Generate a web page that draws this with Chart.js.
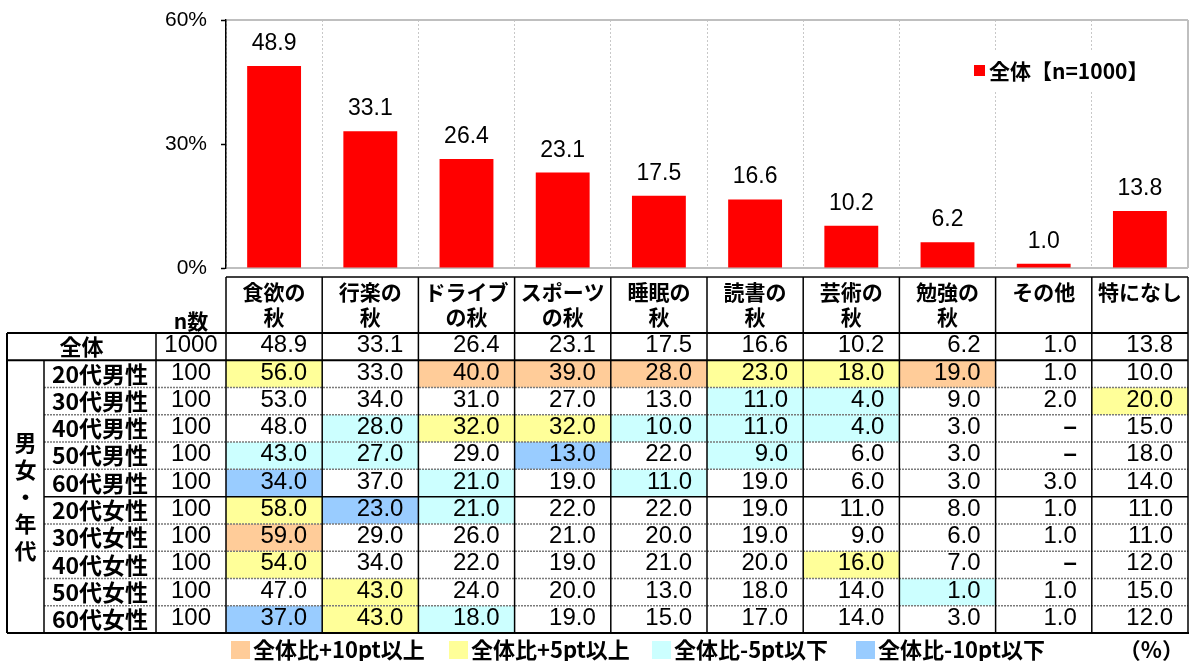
<!DOCTYPE html>
<html lang="ja">
<head>
<meta charset="utf-8">
<script src="https://cdn.jsdelivr.net/npm/chart.js@4.4.1/dist/chart.umd.min.js"></script>
<style>
  html, body { margin: 0; padding: 0; background: #fff; }
  #wrap { width: 1190px; height: 661px; }
</style>
</head>
<body>
<div id="wrap"><canvas id="graf"></canvas></div>
<script>
// ===== datos =====
const categorias = ['食欲の秋', '行楽の秋', 'ドライブの秋', 'スポーツの秋', '睡眠の秋', '読書の秋', '芸術の秋', '勉強の秋', 'その他', '特になし'];
const cabeceras = [['食欲の', '秋'], ['行楽の', '秋'], ['ドライブ', 'の秋'], ['スポーツ', 'の秋'], ['睡眠の', '秋'], ['読書の', '秋'], ['芸術の', '秋'], ['勉強の', '秋'], ['その他'], ['特になし']];
const total = [48.9, 33.1, 26.4, 23.1, 17.5, 16.6, 10.2, 6.2, 1.0, 13.8];
const nTotal = 1000;
const yTicks = [0, 30, 60];

const grupos = ['20代男性', '30代男性', '40代男性', '50代男性', '60代男性', '20代女性', '30代女性', '40代女性', '50代女性', '60代女性'];
const nGrupos = [100, 100, 100, 100, 100, 100, 100, 100, 100, 100];
const m20 = [56.0, 33.0, 40.0, 39.0, 28.0, 23.0, 18.0, 19.0, 1.0, 10.0];
const m30 = [53.0, 34.0, 31.0, 27.0, 13.0, 11.0, 4.0, 9.0, 2.0, 20.0];
const m40 = [48.0, 28.0, 32.0, 32.0, 10.0, 11.0, 4.0, 3.0, null, 15.0];
const m50 = [43.0, 27.0, 29.0, 13.0, 22.0, 9.0, 6.0, 3.0, null, 18.0];
const m60 = [34.0, 37.0, 21.0, 19.0, 11.0, 19.0, 6.0, 3.0, 3.0, 14.0];
const f20 = [58.0, 23.0, 21.0, 22.0, 22.0, 19.0, 11.0, 8.0, 1.0, 11.0];
const f30 = [59.0, 29.0, 26.0, 21.0, 20.0, 19.0, 9.0, 6.0, 1.0, 11.0];
const f40 = [54.0, 34.0, 22.0, 19.0, 21.0, 20.0, 16.0, 7.0, null, 12.0];
const f50 = [47.0, 43.0, 24.0, 20.0, 13.0, 18.0, 14.0, 1.0, 1.0, 15.0];
const f60 = [37.0, 43.0, 18.0, 19.0, 15.0, 17.0, 14.0, 3.0, 1.0, 12.0];
const filas = [m20, m30, m40, m50, m60, f20, f30, f40, f50, f60];

const leyendas = ['全体比+10pt以上', '全体比+5pt以上', '全体比-5pt以下', '全体比-10pt以下'];

// ===== estilos =====
const ROJO = '#ff0000';
const NARANJA = '#ffcc99', AMARILLO = '#ffff99', CIAN = '#ccffff', AZUL = '#99ccff';
const JP = "'Noto Sans CJK JP', sans-serif";
const NUM = "'Liberation Sans', Arial, sans-serif";

function colorCelda(v, base) {
    if (v == null) return null;
    const d = Math.round((v - base) * 10) / 10;
    if (d >= 10) return NARANJA;
    if (d >= 5) return AMARILLO;
    if (d <= -10) return AZUL;
    if (d <= -5) return CIAN;
    return null;
}

function linea(ctx, x1, y1, x2, y2) {
    ctx.beginPath();
    ctx.moveTo(x1, y1);
    ctx.lineTo(x2, y2);
    ctx.stroke();
}

// caja gris del area
const cajaPlugin = {
    id: 'caja',
    beforeDatasetsDraw(chart) {
        const { ctx, chartArea: a } = chart;
        ctx.save();
        ctx.strokeStyle = '#bfbfbf';
        ctx.lineWidth = 2;
        linea(ctx, a.left + 1, a.top, a.right, a.top);
        linea(ctx, a.right, a.top, a.right, a.bottom);
        linea(ctx, a.left + 1, a.bottom, a.right, a.bottom);
        ctx.restore();
    }
};

// etiquetas encima de las barras
const etiquetasPlugin = {
    id: 'etiquetas',
    afterDatasetsDraw(chart) {
        const ctx = chart.ctx;
        const meta = chart.getDatasetMeta(0);
        ctx.save();
        ctx.fillStyle = '#000';
        ctx.font = '23px ' + NUM;
        ctx.textAlign = 'center';
        ctx.textBaseline = 'alphabetic';
        meta.data.forEach((bar, i) => {
            ctx.fillText(total[i].toFixed(1), bar.x, bar.y - 16);
        });
        ctx.restore();
    }
};

// leyenda del grafico
const leyendaPlugin = {
    id: 'leyendaSerie',
    afterDatasetsDraw(chart) {
        const ctx = chart.ctx;
        ctx.save();
        ctx.fillStyle = '#fff';
        ctx.fillRect(962, 50, 186, 40);
        ctx.fillStyle = ROJO;
        ctx.fillRect(974, 65, 11, 11);
        ctx.fillStyle = '#000';
        ctx.font = 'bold 21px ' + JP;
        ctx.textBaseline = 'middle';
        ctx.textAlign = 'left';
        ctx.fillText(chart.data.datasets[0].label, 989, 71);
        ctx.restore();
    }
};

// tabla debajo
const tablaPlugin = {
    id: 'tabla',
    afterDraw(chart) {
        const ctx = chart.ctx;
        const xs = chart.scales.x;
        const nCol = categorias.length;
        const colW = (xs.right - xs.left) / nCol;
        const borde = i => (i < nCol ? xs.getPixelForValue(i) - colW / 2 : xs.right);

        const cabTop = 277, cuerpoTop = 333, filaH = 300 / 11;
        const xIzq = 7, xGrp = 44, xLbl = 156, xN = xs.left;
        const yFila = r => cuerpoTop + r * filaH;
        const yFin = yFila(11);

        ctx.save();

        // fondos
        filas.forEach((fila, r) => {
            fila.forEach((v, i) => {
                const c = colorCelda(v, total[i]);
                if (c) {
                    ctx.fillStyle = c;
                    ctx.fillRect(borde(i), yFila(r + 1), colW, filaH);
                }
            });
        });

        // lineas punteadas entre filas
        ctx.strokeStyle = '#7a7a7a';
        ctx.lineWidth = 1.5;
        ctx.setLineDash([2, 1]);
        for (let r = 2; r <= 10; r++) {
            if (r === 6) continue;
            linea(ctx, xGrp, yFila(r), xs.right, yFila(r));
        }
        ctx.setLineDash([]);

        // lineas solidas
        ctx.strokeStyle = '#000';
        ctx.lineWidth = 1.5;
        for (let i = 0; i <= nCol; i++) linea(ctx, borde(i), cabTop, borde(i), yFin);
        linea(ctx, xs.left, cabTop, xs.right, cabTop);
        linea(ctx, xLbl, cuerpoTop, xLbl, yFin);
        linea(ctx, xGrp, yFila(1), xGrp, yFin);
        linea(ctx, xGrp, yFila(6), xs.right, yFila(6));
        ctx.lineWidth = 2;
        linea(ctx, xIzq, cuerpoTop, xs.right, cuerpoTop);
        linea(ctx, xIzq, yFila(1), xs.right, yFila(1));
        linea(ctx, xIzq, cuerpoTop, xIzq, yFin);
        linea(ctx, xIzq, yFin, xs.right + 1, yFin);

        // cabeceras
        ctx.fillStyle = '#000';
        ctx.textBaseline = 'middle';
        ctx.textAlign = 'center';
        ctx.font = 'bold 21px ' + JP;
        cabeceras.forEach((lineas, i) => {
            const cx = borde(i) + colW / 2;
            lineas.forEach((t, k) => ctx.fillText(t, cx, 292 + k * 25));
        });
        ctx.fillText('n数', (xLbl + xN) / 2, 321);

        // fila total
        ctx.font = 'bold 22px ' + JP;
        ctx.fillText('全体', (xIzq + xLbl) / 2, yFila(0) + filaH / 2);
        ctx.font = '24px ' + NUM;
        ctx.fillText(String(nTotal), (xLbl + xN) / 2, yFila(0) + filaH / 2 - 1);
        ctx.textAlign = 'right';
        total.forEach((v, i) => ctx.fillText(v.toFixed(1), borde(i + 1) - 15, yFila(0) + filaH / 2 - 1));

        // filas por grupo
        filas.forEach((fila, r) => {
            const cy = yFila(r + 1) + filaH / 2;
            ctx.textAlign = 'center';
            ctx.font = 'bold 23px ' + JP;
            ctx.fillText(grupos[r], (xGrp + xLbl) / 2, cy);
            ctx.font = '24px ' + NUM;
            ctx.fillText(String(nGrupos[r]), (xLbl + xN) / 2, cy - 1);
            ctx.textAlign = 'right';
            fila.forEach((v, i) => {
                if (v == null) {
                    ctx.font = 'bold 24px ' + NUM;
                    ctx.fillText('–', borde(i + 1) - 15, cy - 1);
                    ctx.font = '24px ' + NUM;
                } else {
                    ctx.fillText(v.toFixed(1), borde(i + 1) - 15, cy - 1);
                }
            });
        });

        // texto vertical
        ctx.textAlign = 'center';
        ctx.font = 'bold 22px ' + JP;
        const medio = (yFila(1) + yFin) / 2;
        ['男', '女', '・', '年', '代'].forEach((c, k) => ctx.fillText(c, (xIzq + xGrp) / 2, medio + (k - 2) * 27));

        // leyenda de colores
        const colores = [NARANJA, AMARILLO, CIAN, AZUL];
        const posX = [231, 449, 652, 856];
        ctx.textAlign = 'left';
        leyendas.forEach((t, k) => {
            ctx.fillStyle = colores[k];
            ctx.fillRect(posX[k], 641, 19, 18);
            ctx.fillStyle = '#000';
            ctx.fillText(t, posX[k] + 22, 650);
        });
        ctx.textAlign = 'right';
        ctx.fillText('（%）', 1184, 650);

        ctx.restore();
    }
};

const $ctx = document.getElementById('graf');

const chart = new Chart($ctx, {
    type: 'bar',
    data: {
        labels: categorias,
        datasets: [{
            label: '全体【n=' + nTotal + '】',
            data: total,
            backgroundColor: ROJO,
            barPercentage: 0.56,
            categoryPercentage: 1
        }]
    },
    options: {
        responsive: true,
        maintainAspectRatio: false,
        animation: false,
        devicePixelRatio: 1,
        layout: { padding: { left: 0, top: 20, right: 2, bottom: 393 } },
        plugins: {
            legend: { display: false },
            tooltip: { enabled: false }
        },
        scales: {
            x: {
                ticks: { display: false },
                grid: { color: '#c8c8c8', drawTicks: false, offset: true, lineWidth: 1 },
                border: { display: false, dash: [2, 2] },
                afterFit: s => { s.height = 0; }
            },
            y: {
                min: 0,
                max: 60,
                afterBuildTicks: s => { s.ticks = yTicks.map(v => ({ value: v })); },
                ticks: {
                    callback: v => v + '%',
                    color: '#000',
                    font: { family: NUM, size: 21 },
                    padding: 14
                },
                grid: { drawOnChartArea: false, drawTicks: true, tickLength: 5, tickColor: '#000', tickWidth: 1.5 },
                border: { color: '#000', width: 1.5 },
                afterFit: s => { s.width = 226; s.paddingTop = 0; s.paddingBottom = 0; }
            }
        }
    },
    plugins: [cajaPlugin, etiquetasPlugin, leyendaPlugin, tablaPlugin]
});
</script>
</body>
</html>
